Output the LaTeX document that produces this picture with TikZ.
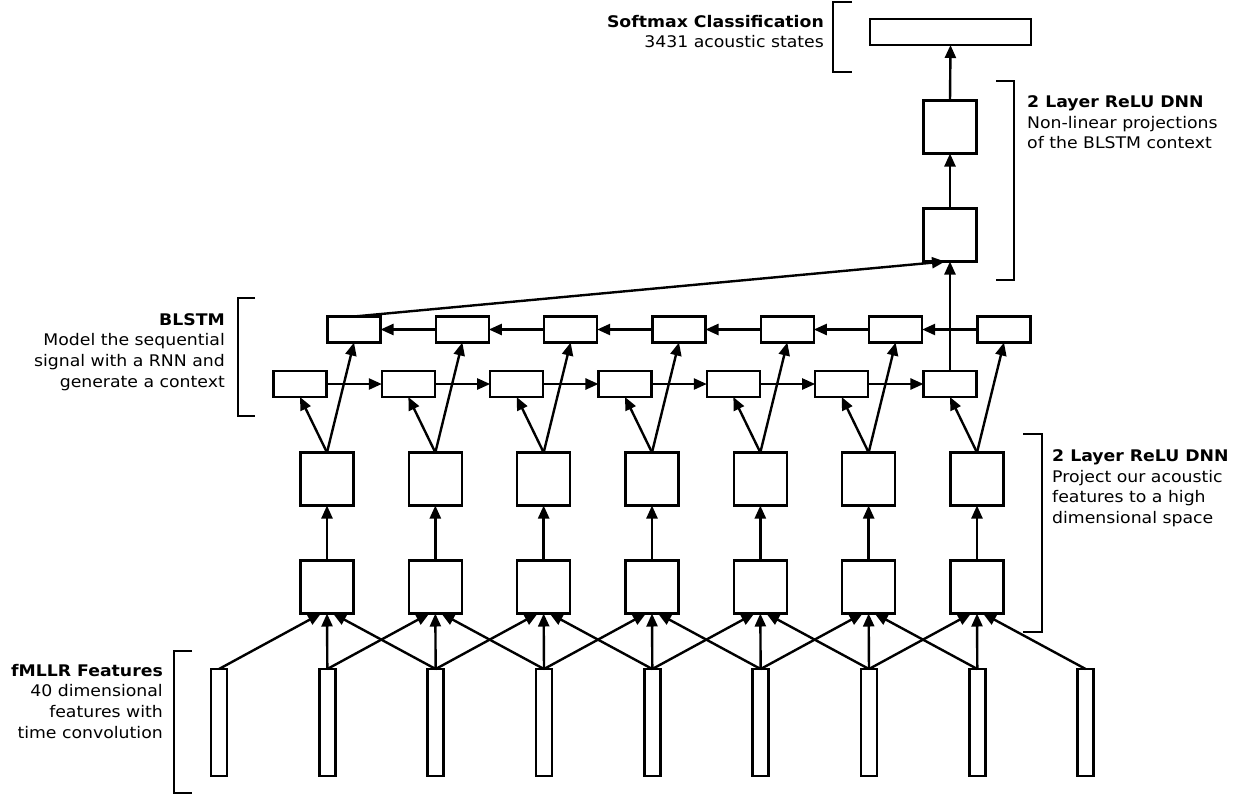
\documentclass[tikz,border=0pt]{standalone}
\usepackage{fontspec}
\setmainfont{DejaVu Sans}[FakeStretch=1.08]
\usetikzlibrary{arrows.meta,calc}
\begin{document}
\begin{tikzpicture}[x=1pt,y=-1pt,
  lw/.style={line width=2.4pt},
  sq/.style={draw,lw,minimum width=53pt,minimum height=53pt,inner sep=0pt,outer sep=0pt},
  rb/.style={draw,lw,minimum width=53pt,minimum height=26pt,inner sep=0pt,outer sep=0pt},
  feat/.style={draw,lw,minimum width=16pt,minimum height=107pt,inner sep=0pt,outer sep=0pt},
  wide/.style={draw,lw,minimum width=161pt,minimum height=26pt,inner sep=0pt,outer sep=0pt},
  arr/.style={lw,-{Triangle[length=13pt,width=11pt]}},
  brk/.style={lw},
  txt/.style={inner sep=0pt,font=\fontsize{16}{20.7}\selectfont}]
\fill[white] (0,0) rectangle (1252,798);
\useasboundingbox (0,0) rectangle (1252,798);
% feature bars
\foreach \k in {0,...,8} \node[feat] (f\k) at ({219+108.33*\k},722.5) {};
% columns
\foreach \j in {0,...,6} {
  \node[sq] (a\j) at ({327+108.33*\j},587) {};
  \node[sq] (b\j) at ({327+108.33*\j},479) {};
  \node[rb] (fw\j) at ({300+108.33*\j},384) {};
  \node[rb] (bw\j) at ({354+108.33*\j},329.5) {};
}
\node[sq] (t1) at (950,235) {};
\node[sq] (t2) at (950,127) {};
\node[wide] (sm) at (950.5,32) {};
% connections
\foreach \j [evaluate=\j as \k using int(\j+1), evaluate=\j as \m using int(\j+2)] in {0,...,6} {
  \draw[arr] (f\j.north) -- ($(a\j.south)+(-6,0)$);
  \draw[arr] (f\k.north) -- (a\j.south);
  \draw[arr] (f\m.north) -- ($(a\j.south)+(6,0)$);
  \draw[arr] (a\j.north) -- (b\j.south);
  \draw[arr] (b\j.north) -- (fw\j.south);
  \draw[arr] (b\j.north) -- (bw\j.south);
}
\foreach \j [evaluate=\j as \k using int(\j+1)] in {0,...,5} {
  \draw[arr] (fw\j.east) -- (fw\k.west);
  \draw[arr] (bw\k.west) -- (bw\j.east);
}
\draw[arr] (fw6.north) -- (fw6.north |- t1.south);
\draw[arr] (bw0.north) -- ($(t1.south)+(-5,0)$);
\draw[arr] (t1.north) -- (t2.south);
\draw[arr] (t2.north) -- (sm.south);
% brackets
\draw[brk] (852,2) -- (833,2) -- (833,72) -- (852,72);
\draw[brk] (996,81) -- (1014,81) -- (1014,280) -- (996,280);
\draw[brk] (255,298) -- (238,298) -- (238,416) -- (255,416);
\draw[brk] (1023,434) -- (1042,434) -- (1042,632) -- (1023,632);
\draw[brk] (192,651) -- (174,651) -- (174,793) -- (192,793);
% labels (base anchor = baseline of the last line)
\node[txt,anchor=base east,align=right] (lsm) at (824,47.7) {\textbf{Softmax Classification}\\3431 acoustic states};
\node[txt,anchor=base west,align=left] (ltop) at (1027,148.9) {\textbf{2 Layer ReLU DNN}\\Non-linear projections\\of the BLSTM context};
\node[txt,anchor=base east,align=right] (lbl) at (225,387.1) {\textbf{BLSTM}\\Model the sequential\\signal with a RNN and\\generate a context};
\node[txt,anchor=base west,align=left] (lbot) at (1052,523.6) {\textbf{2 Layer ReLU DNN}\\Project our acoustic\\features to a high\\dimensional space};
\node[txt,anchor=base east,align=right] (lfm) at (163,738.1) {\textbf{fMLLR Features}\\40 dimensional\\features with\\time convolution};
\end{tikzpicture}
\end{document}
